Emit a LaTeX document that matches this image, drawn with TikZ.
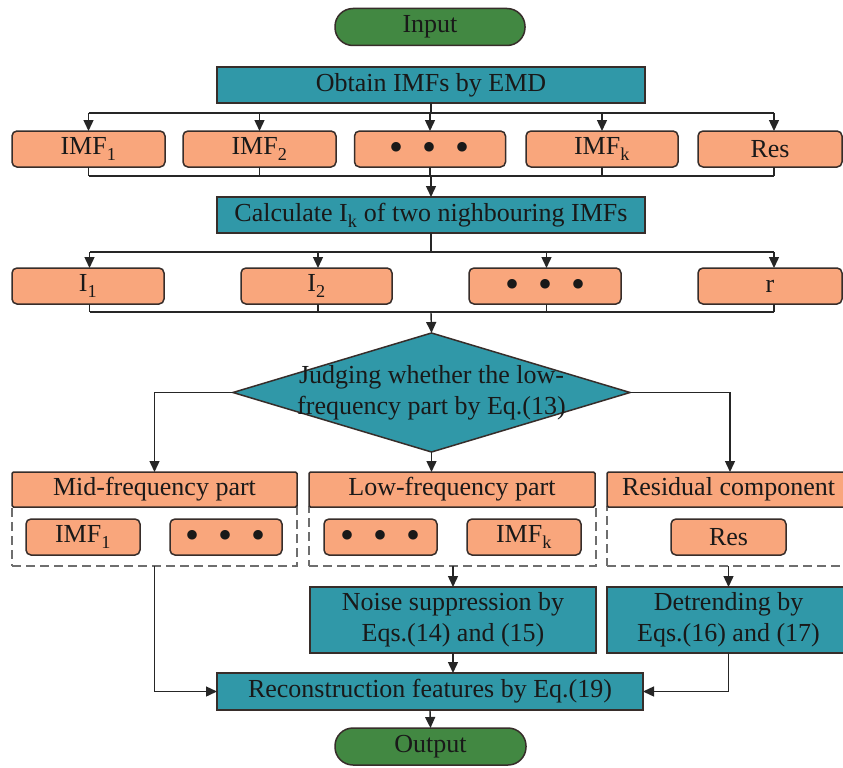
\documentclass[tikz,border=0pt]{standalone}
\usepackage{fontspec}
\setmainfont{Liberation Serif}
\usetikzlibrary{arrows.meta,shapes.geometric}
\definecolor{tealfill}{RGB}{48,152,168}
\definecolor{greenfill}{RGB}{66,136,66}
\definecolor{orangefill}{RGB}{249,166,124}
\definecolor{edgecol}{RGB}{55,45,42}
\definecolor{dashgray}{RGB}{110,110,110}
\newcommand{\threedots}{\raisebox{-11pt}[0pt][0pt]{\fontsize{40}{40}\selectfont •\hspace{19pt}•\hspace{19pt}•}}
\newcommand{\lowsub}[1]{\raisebox{-2pt}{\textsubscript{#1}}}
\begin{document}
\begin{tikzpicture}[x=1pt,y=-1pt,
  font=\fontsize{26}{31}\selectfont,
  every node/.style={inner sep=0pt, outer sep=0pt, text=black!90},
  tealbox/.style={draw=edgecol, line width=1.5pt, fill=tealfill, rectangle, minimum height=36pt},
  orbox/.style={draw=edgecol, line width=1.5pt, fill=orangefill, rectangle, rounded corners=5pt, minimum height=36pt},
  hdrbox/.style={draw=edgecol, line width=1.5pt, fill=orangefill, rectangle, rounded corners=1.5pt, minimum height=35pt},
  pillbox/.style={draw=edgecol, line width=1.5pt, fill=greenfill, rectangle, rounded corners=18pt, minimum height=37pt},
  conn/.style={line width=1.4pt, draw=black!85},
  arr/.style={conn, -{Triangle[length=11pt,width=10pt]}},
  dashbox/.style={draw=dashgray, line width=1.5pt, dash pattern=on 9pt off 5pt, rectangle}
]
\clip (0,0) rectangle (843,768);
\fill[white] (0,0) rectangle (843,768);

% top
\node[pillbox, minimum width=190pt] (input) at (430,27) {Input};
\node[tealbox, minimum width=428pt] (obtain) at (431,85) {Obtain IMFs by EMD};

% row 1
\node[orbox, minimum width=153pt] (imfa) at (88.5,149) {IMF\lowsub{1}};
\node[orbox, minimum width=153pt] (imfb) at (259.5,149) {IMF\lowsub{2}};
\node[orbox, minimum width=151pt] (dotsa) at (430,149) {\threedots};
\node[orbox, minimum width=152pt] (imfk) at (602,149) {IMF\lowsub{k}};
\node[orbox, minimum width=144pt] (resa) at (770,149) {Res};

\coordinate (br1) at (431,113);
\coordinate (jn1) at (431,176);
\draw[conn] (obtain.south) -- (br1);
\draw[conn] (imfa.north |- br1) -- ([xshift=4pt]resa.north |- br1);
\foreach \n in {imfa,imfb,dotsa,imfk}
  \draw[arr] (\n.north |- br1) -- (\n.north);
\draw[arr] ([xshift=4pt]resa.north |- br1) -- ([xshift=4pt]resa.north);
\draw[conn] (imfa.south |- jn1) -- ([xshift=4pt]resa.south |- jn1);
\foreach \n in {imfa,imfb,dotsa,imfk}
  \draw[conn] (\n.south) -- (\n.south |- jn1);
\draw[conn] ([xshift=4pt]resa.south) -- ([xshift=4pt]resa.south |- jn1);

\node[tealbox, minimum width=428pt] (calc) at (431,215) {Calculate I\lowsub{k} of two nighbouring IMFs};
\draw[arr] (jn1) -- (calc.north);

% row 2
\node[orbox, minimum width=152pt] (ia) at (88,286) {I\lowsub{1}};
\node[orbox, minimum width=151pt] (ib) at (316.5,286) {I\lowsub{2}};
\node[orbox, minimum width=152pt] (dotsb) at (545,286) {\threedots};
\node[orbox, minimum width=144pt] (rr) at (770,286) {r};

\coordinate (br2) at (431,252);
\coordinate (jn2) at (431,312);
\draw[conn] (calc.south) -- (br2);
\draw[conn] ([xshift=2pt]ia.north |- br2) -- ([xshift=4pt]rr.north |- br2);
\foreach \n in {ia,ib,dotsb}
  \draw[arr] ([xshift=1.5pt]\n.north |- br2) -- ([xshift=1.5pt]\n.north);
\draw[arr] ([xshift=4pt]rr.north |- br2) -- ([xshift=4pt]rr.north);
\draw[conn] ([xshift=2pt]ia.south |- jn2) -- ([xshift=4pt]rr.south |- jn2);
\foreach \n in {ia,ib,dotsb}
  \draw[conn] ([xshift=1.5pt]\n.south) -- ([xshift=1.5pt]\n.south |- jn2);
\draw[conn] ([xshift=4pt]rr.south) -- ([xshift=4pt]rr.south |- jn2);

% decision
\node[diamond, draw=edgecol, line width=1.5pt, fill=tealfill, minimum width=397pt, minimum height=119pt] (judge) at (431.5,392.5) {};
\node[align=center] (judgetxt) at (431.5,393) {Judging whether the low-\\frequency part by Eq.(13)};
\draw[arr] (jn2) -- (judge.north);

% groups
\node[dashbox, minimum width=285pt, minimum height=59pt] (gmid) at (154.5,536.5) {};
\node[dashbox, minimum width=287pt, minimum height=59pt] (glow) at (452.5,536.5) {};
\node[dashbox, minimum width=253pt, minimum height=59pt] (gres) at (733.5,536.5) {};

\node[hdrbox, minimum width=285pt] (mid) at (154.5,489.5) {Mid-frequency part};
\node[hdrbox, minimum width=286pt] (low) at (452,489.5) {Low-frequency part};
\node[hdrbox, minimum width=243pt] (resid) at (728.5,489.5) {Residual component};

\draw[arr] (judge.west) -| (mid.north);
\draw[arr] (judge.east) -| ([xshift=1.5pt]resid.north);
\draw[arr] (judge.south) -- (judge.south |- low.north);

\node[orbox, minimum width=114pt] (imfc) at (83,537) {IMF\lowsub{1}};
\node[orbox, minimum width=112pt] (dotsc) at (226,537) {\threedots};
\node[orbox, minimum width=113pt] (dotsd) at (380.5,537) {\threedots};
\node[orbox, minimum width=114pt] (imfkc) at (524,537) {IMF\lowsub{k}};
\node[orbox, minimum width=115pt] (resc) at (728.5,537) {Res};

% processing
\node[tealbox, minimum width=286pt, minimum height=66pt, align=center] (noise) at (453,620) {Noise suppression by\\Eqs.(14) and (15)};
\node[tealbox, minimum width=243pt, minimum height=66pt, align=center] (detrend) at (728.5,620) {Detrending by\\Eqs.(16) and (17)};
\node[tealbox, minimum width=426pt, minimum height=37pt] (recon) at (430,691.5) {Reconstruction features by Eq.(19)};
\node[pillbox, minimum width=191pt] (output) at (430.5,746.5) {Output};

\draw[arr] (glow.south -| noise.north) -- (noise.north);
\draw[arr] (noise.south) -- (noise.south |- recon.north);
\draw[arr] (gmid.south) |- (recon.west);
\draw[arr] (gres.south -| detrend.north) -- (detrend.north);
\draw[arr] (detrend.south) |- (recon.east);
\draw[arr] (recon.south) -- (output.north);
\end{tikzpicture}
\end{document}
